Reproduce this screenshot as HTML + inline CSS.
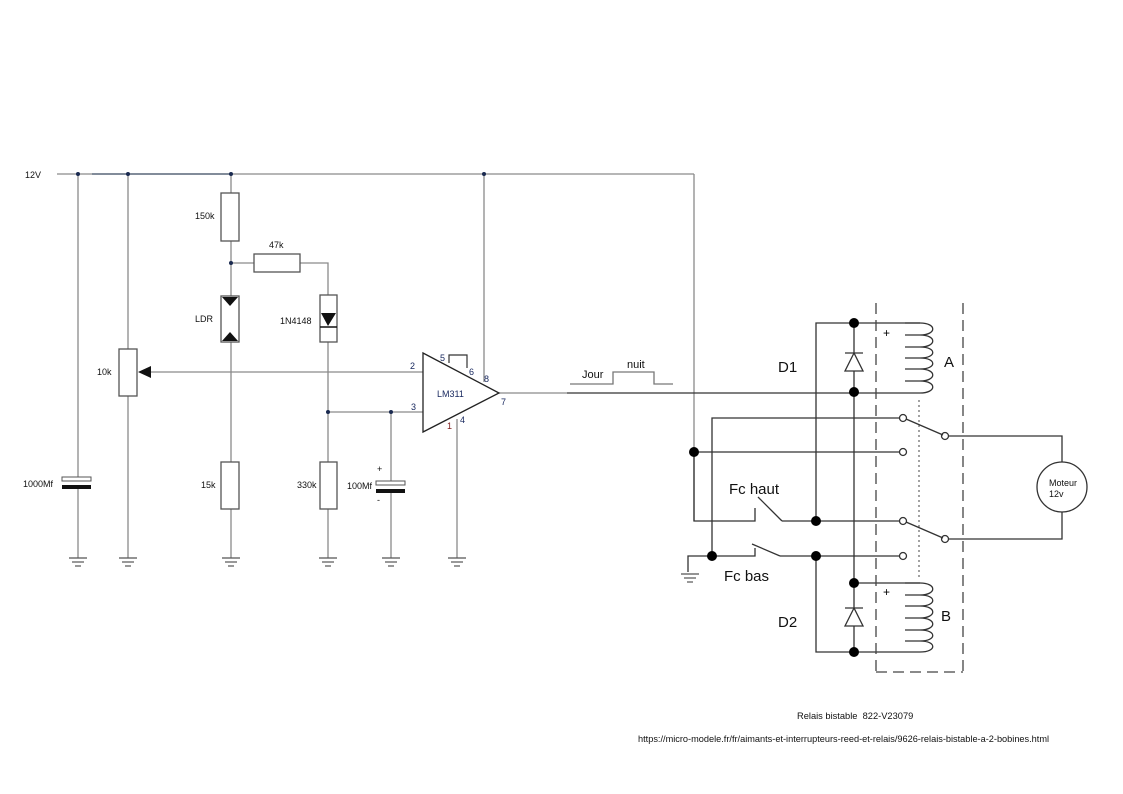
<!DOCTYPE html>
<html><head><meta charset="utf-8"><style>
html,body{margin:0;padding:0;background:#fff;}
svg{display:block;font-family:"Liberation Sans",sans-serif;}
</style></head><body>
<svg width="1123" height="794" viewBox="0 0 1123 794" xmlns="http://www.w3.org/2000/svg">
<defs>
<g id="gnd"><line x1="-9" y1="558" x2="9" y2="558"/><line x1="-6" y1="562" x2="6" y2="562"/><line x1="-3" y1="566" x2="3" y2="566"/></g>
</defs>
<g stroke="#8a8a8a" stroke-width="1.3" fill="none">
<line x1="57" y1="174" x2="694" y2="174"/>
<line x1="92" y1="174" x2="231" y2="174" stroke="#4a5a70"/>
<line x1="694" y1="174" x2="694" y2="521"/>
<line x1="78" y1="174" x2="78" y2="478"/><line x1="78" y1="486" x2="78" y2="558"/>
<line x1="128" y1="174" x2="128" y2="349"/><line x1="128" y1="396" x2="128" y2="558"/>
<line x1="150" y1="372" x2="423" y2="372"/>
<line x1="231" y1="174" x2="231" y2="193"/><line x1="231" y1="241" x2="231" y2="296"/>
<line x1="231" y1="342" x2="231" y2="462"/><line x1="231" y1="509" x2="231" y2="558"/>
<line x1="231" y1="263" x2="254" y2="263"/>
<polyline points="300,263 328,263 328,295"/>
<line x1="328" y1="342" x2="328" y2="462"/><line x1="328" y1="509" x2="328" y2="558"/>
<line x1="328" y1="412" x2="423" y2="412"/>
<line x1="391" y1="412" x2="391" y2="482"/><line x1="391" y1="490" x2="391" y2="558"/>
<line x1="484" y1="174" x2="484" y2="382"/>
<line x1="457" y1="419" x2="457" y2="558"/>
<line x1="499" y1="393" x2="567" y2="393"/>
</g>
<polyline points="449,363 449,355 467,355 467,368" stroke="#333" stroke-width="1.2" fill="none"/>
<g stroke="#555" stroke-width="1.3" fill="#fff">
<rect x="221" y="193" width="18" height="48"/>
<rect x="254" y="254" width="46" height="18"/>
<rect x="221" y="296" width="18" height="46"/>
<rect x="320" y="295" width="17" height="47"/>
<rect x="221" y="462" width="18" height="47"/>
<rect x="320" y="462" width="17" height="47"/>
<rect x="119" y="349" width="18" height="47"/>
<polygon points="423,353 423,432 499,393" fill="none" stroke="#222"/>
</g>
<polygon points="222,297 238,297 230,306" fill="#111"/>
<polygon points="222,341 238,341 230,332" fill="#111"/>
<polygon points="321,313 336,313 328,326" fill="#111"/>
<line x1="320" y1="327" x2="337" y2="327" stroke="#111" stroke-width="1.5"/>
<polygon points="138,372 151,366 151,378" fill="#111"/>
<rect x="62" y="477" width="29" height="4" fill="#fff" stroke="#555"/>
<rect x="62" y="485" width="29" height="4" fill="#111"/>
<rect x="376" y="481" width="29" height="4" fill="#fff" stroke="#555"/>
<rect x="376" y="489" width="29" height="4" fill="#111"/>
<g stroke="#555" stroke-width="1.2">
<use href="#gnd" x="78"/><use href="#gnd" x="128"/><use href="#gnd" x="231"/><use href="#gnd" x="328"/><use href="#gnd" x="391"/><use href="#gnd" x="457"/><use href="#gnd" x="690" y="16"/>
</g>
<g fill="#1a2a50">
<circle cx="78" cy="174" r="2"/><circle cx="128" cy="174" r="2"/><circle cx="231" cy="174" r="2"/><circle cx="484" cy="174" r="2"/>
<circle cx="231" cy="263" r="2"/><circle cx="328" cy="412" r="2"/><circle cx="391" cy="412" r="2"/>
</g>
<g stroke="#333" stroke-width="1.3" fill="none">
<line x1="567" y1="393" x2="920" y2="393"/>
<line x1="854" y1="323" x2="854" y2="652"/>
<polyline points="920,323 816,323 816,522"/>
<polyline points="920,652 816,652 816,556"/>
<line x1="854" y1="583" x2="920" y2="583"/>
<polyline points="712,556 712,418 900,418"/>
<line x1="694" y1="452" x2="900" y2="452"/>
<polyline points="694,452 694,521 755,521 755,508"/>
<line x1="758" y1="497" x2="782" y2="521"/>
<line x1="782" y1="521" x2="900" y2="521"/>
<polyline points="688,572 688,556 755,556 755,548"/>
<line x1="752" y1="544" x2="780" y2="556"/>
<line x1="780" y1="556" x2="900" y2="556"/>
<line x1="906" y1="419" x2="943" y2="435"/>
<line x1="906" y1="522" x2="943" y2="538"/>
<polyline points="948,436 1062,436 1062,462"/>
<polyline points="948,539 1062,539 1062,512"/>
<circle cx="1062" cy="487" r="25"/>
<circle cx="903" cy="418" r="3.5"/><circle cx="903" cy="452" r="3.5"/><circle cx="903" cy="521" r="3.5"/><circle cx="903" cy="556" r="3.5"/>
<circle cx="945" cy="436" r="3.5"/><circle cx="945" cy="539" r="3.5"/>
<path d="M905,323 H920 C937,323 937,335 920,335 H905 M920,335 C937,335 937,347 920,347 H905 M920,347 C937,347 937,358 920,358 H905 M920,358 C937,358 937,369 920,369 H905 M920,369 C937,369 937,381 920,381 H905 M920,381 C937,381 937,393 920,393"/>
<path d="M905,583 H920 C937,583 937,595 920,595 H905 M920,595 C937,595 937,606 920,606 H905 M920,606 C937,606 937,618 920,618 H905 M920,618 C937,618 937,630 920,630 H905 M920,630 C937,630 937,641 920,641 H905 M920,641 C937,641 937,652 920,652"/>
<polygon points="854,353 845,371 863,371" fill="#fff"/><line x1="845" y1="353" x2="863" y2="353"/>
<polygon points="854,608 845,626 863,626" fill="#fff"/><line x1="845" y1="608" x2="863" y2="608"/>
<polyline points="570,384 613,384 613,372 654,372 654,384 673,384" stroke="#777"/>
</g>
<g stroke="#444" stroke-width="1.3" stroke-dasharray="11,6" fill="none">
<line x1="876" y1="303" x2="876" y2="672"/><line x1="963" y1="303" x2="963" y2="672"/><line x1="876" y1="672" x2="963" y2="672"/>
</g>
<line x1="919" y1="400" x2="919" y2="577" stroke="#444" stroke-dasharray="2,3"/>
<g fill="#000">
<circle cx="854" cy="323" r="5"/><circle cx="854" cy="392" r="5"/><circle cx="854" cy="583" r="5"/><circle cx="854" cy="652" r="5"/>
<circle cx="816" cy="521" r="5"/><circle cx="816" cy="556" r="5"/><circle cx="712" cy="556" r="5"/><circle cx="694" cy="452" r="5"/>
</g>
<g font-size="9" fill="#111">
<text x="25" y="178">12V</text>
<text x="195" y="219">150k</text>
<text x="269" y="248">47k</text>
<text x="195" y="322">LDR</text>
<text x="280" y="324">1N4148</text>
<text x="97" y="375">10k</text>
<text x="201" y="488">15k</text>
<text x="297" y="488">330k</text>
<text x="23" y="487">1000Mf</text>
<text x="347" y="489">100Mf</text>
<text x="377" y="472">+</text>
<text x="377" y="503">-</text>
<text x="437" y="397" fill="#1a2a60">LM311</text>
<text x="410" y="369" fill="#1a2a60">2</text>
<text x="411" y="410" fill="#1a2a60">3</text>
<text x="440" y="361" fill="#1a2a60">5</text>
<text x="469" y="375" fill="#1a2a60">6</text>
<text x="484" y="382" fill="#1a2a60">8</text>
<text x="501" y="405" fill="#1a2a60">7</text>
<text x="460" y="423" fill="#1a2a60">4</text>
<text x="447" y="429" fill="#802020">1</text>
<text x="582" y="378" font-size="11">Jour</text>
<text x="627" y="368" font-size="11">nuit</text>
<text x="1049" y="486">Moteur</text>
<text x="1049" y="497">12v</text>
<text x="797" y="719" font-size="9.3" xml:space="preserve">Relais bistable  822-V23079</text>
<text x="638" y="742" font-size="9.2">https://micro-modele.fr/fr/aimants-et-interrupteurs-reed-et-relais/9626-relais-bistable-a-2-bobines.html</text>
</g>
<g font-size="15" fill="#111">
<text x="778" y="372">D1</text>
<text x="778" y="627">D2</text>
<text x="944" y="367">A</text>
<text x="941" y="621">B</text>
<text x="729" y="494">Fc haut</text>
<text x="724" y="581">Fc bas</text>
</g>
<text x="883" y="337" font-size="12">+</text>
<text x="883" y="596" font-size="12">+</text>
</svg>
</body></html>
